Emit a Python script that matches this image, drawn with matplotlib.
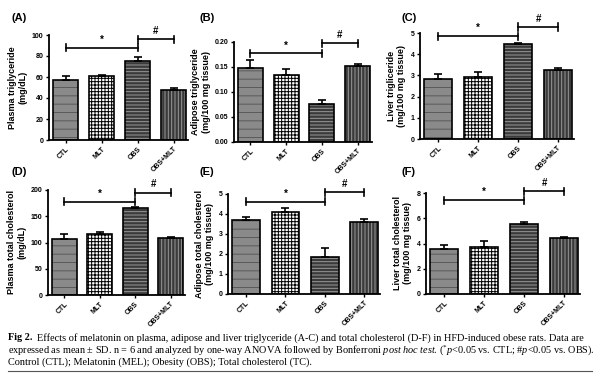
import numpy as np
import matplotlib
matplotlib.use("Agg")
import matplotlib.pyplot as plt

plt.rcParams['font.family'] = ['Liberation Sans', 'DejaVu Sans']
plt.rcParams['hatch.linewidth'] = 0.7
plt.rcParams['mathtext.fontset'] = 'custom'
plt.rcParams['mathtext.rm'] = 'Liberation Serif'
plt.rcParams['mathtext.it'] = 'Liberation Serif:italic'

groups = ['CTL', 'MLT', 'OBS', 'OBS+MLT']

# means / upper SD
plasma_tg = [57, 60.5, 75.5, 47.5]
plasma_tg_sd = [4, 1.5, 3.5, 2.5]
adipose_tg = [0.147, 0.133, 0.075, 0.151]
adipose_tg_sd = [0.016, 0.012, 0.008, 0.004]
liver_tg = [2.83, 2.93, 4.48, 3.27]
liver_tg_sd = [0.22, 0.23, 0.05, 0.1]
plasma_tc = [107, 115.5, 165, 109]
plasma_tc_sd = [9, 5, 2, 1]
adipose_tc = [3.68, 4.09, 1.85, 3.59]
adipose_tc_sd = [0.15, 0.2, 0.45, 0.15]
liver_tc = [3.58, 3.76, 5.57, 4.45]
liver_tc_sd = [0.31, 0.4, 0.1, 0.05]

panels = [
    # label, data, sd, ylabel, ylim, yticks, ticklabels, star y, hash y, px box (left, top, right, bottom)
    ('(A)', plasma_tg, plasma_tg_sd, 'Plasma triglyceride\n(mg/dL)', 100,
     [0, 20, 40, 60, 80, 100], None, 88, 96, (49, 35, 188, 140)),
    ('(B)', adipose_tg, adipose_tg_sd, 'Adipose triglyceride\n(mg/100 mg tissue)', 0.20,
     [0, 0.05, 0.10, 0.15, 0.20], ['0.00', '0.05', '0.10', '0.15', '0.20'], 0.177, 0.197, (234, 42, 372, 142)),
    ('(C)', liver_tg, liver_tg_sd, 'Liver trigliceride\n(mg/100 mg tissue)', 5,
     [0, 1, 2, 3, 4, 5], None, 4.84, 5.28, (420, 33, 574, 139)),
    ('(D)', plasma_tc, plasma_tc_sd, 'Plasma total cholesterol\n(mg/dL)', 200,
     [0, 50, 100, 150, 200], None, 178, 195, (48, 190, 185, 295)),
    ('(E)', adipose_tc, adipose_tc_sd, 'Adipose total cholesterol\n(mg/100 mg tissue)', 5,
     [0, 1, 2, 3, 4, 5], None, 4.62, 5.08, (228, 194, 380, 294)),
    ('(F)', liver_tc, liver_tc_sd, 'Liver total cholesterol\n(mg/100 mg tissue)', 8,
     [0, 2, 4, 6, 8], None, 7.42, 8.13, (426, 193, 580, 294)),
]

faces = ['#8a8a8a', 'white', '#3a3a3a', '#3a3a3a']
hatch_cols = ['#5a5a5a', 'black', '#9a9a9a', '#9a9a9a']
hatches = ['--', '+++++', '-----', '|||||']

W, H = 600, 377
fig = plt.figure(figsize=(6, 3.77), dpi=100)

for lab, vals, sd, ylab, ytop, yt, ytl, ystar, yhash, box in panels:
    l, t, r, b = box
    ax = fig.add_axes([l / W, 1 - b / H, (r - l) / W, (b - t) / H])
    x = np.arange(len(groups))
    for i in range(len(groups)):
        ax.bar(x[i], vals[i], width=0.7, color=faces[i], edgecolor=hatch_cols[i],
               hatch=hatches[i], linewidth=0, zorder=2)
    ax.bar(x, vals, width=0.7, fill=False, edgecolor='black', linewidth=1.2, zorder=3)
    ax.errorbar(x, vals, yerr=[[0] * 4, sd], fmt='none', ecolor='black',
                elinewidth=1.2, capsize=3, capthick=1.2, zorder=4)
    ax.set_xlim(-0.46, 3.4)
    ax.set_ylim(0, ytop)
    ax.set_yticks(yt)
    if ytl:
        ax.set_yticklabels(ytl)
    ax.set_xticks(x)
    ax.set_xticklabels(groups, rotation=45, ha='right', rotation_mode='anchor',
                       fontsize=5.5, fontweight='bold')
    for s in ['top', 'right']:
        ax.spines[s].set_visible(False)
    for s in ['left', 'bottom']:
        ax.spines[s].set_linewidth(1.3)
    ax.tick_params(width=1.0, length=2.5, labelsize=5, pad=1.5)
    for tl in ax.get_yticklabels():
        tl.set_fontweight('bold')
    ax.set_ylabel(ylab, fontsize=6.5, fontweight='bold', labelpad=3)

    # significance brackets
    for x0, x1, yy, sym in [(0, 2, ystar, '*'), (2, 3, yhash, '#')]:
        ax.plot([x0, x1], [yy, yy], color='black', lw=1.2, clip_on=False)
        d = ytop * 0.035
        ax.plot([x0, x0], [yy - d, yy + d], color='black', lw=1.2, clip_on=False)
        ax.plot([x1, x1], [yy - d, yy + d], color='black', lw=1.2, clip_on=False)
        ax.text((x0 + x1) / 2, yy + ytop * 0.03, sym, ha='center', va='bottom',
                fontsize=7, fontweight='bold', clip_on=False)

    # panel letter
    lx = {49: 12, 234: 200, 420: 402, 48: 12, 228: 200, 426: 402}[l]
    ly = 18 if t < 100 else 172
    fig.text(lx / W, 1 - ly / H, lab, fontsize=8, fontweight='bold', va='center')

# caption
cap_font = ['Liberation Serif', 'DejaVu Serif']
fs = 7.4
y1 = 1 - 338 / H
fig.text(8 / W, y1, 'Fig 2.', fontsize=fs, fontweight='bold', family=cap_font, va='center')
fig.text(37 / W, y1, 'Effects of melatonin on plasma, adipose and liver triglyceride (A-C) and total cholesterol (D-F) in HFD-induced obese rats. Data are',
         fontsize=fs, family=cap_font, va='center')
fig.text(8 / W, 1 - 350 / H,
         'expressed as mean \u00b1 SD. n = 6 and analyzed by one-way ANOVA followed by Bonferroni '
         r'$\it{post\ hoc\ test}$. ($^{*}\it{p}$<0.05 vs. CTL; #$\it{p}$<0.05 vs. OBS).',
         fontsize=fs, family=cap_font, va='center')
fig.text(8 / W, 1 - 362 / H, 'Control (CTL); Melatonin (MEL); Obesity (OBS); Total cholesterol (TC).',
         fontsize=fs, family=cap_font, va='center')
fig.add_artist(plt.Line2D([8 / W, 592 / W], [1 - 371 / H] * 2, color='#555555', lw=0.8))

fig.savefig('out.png', dpi=100)
